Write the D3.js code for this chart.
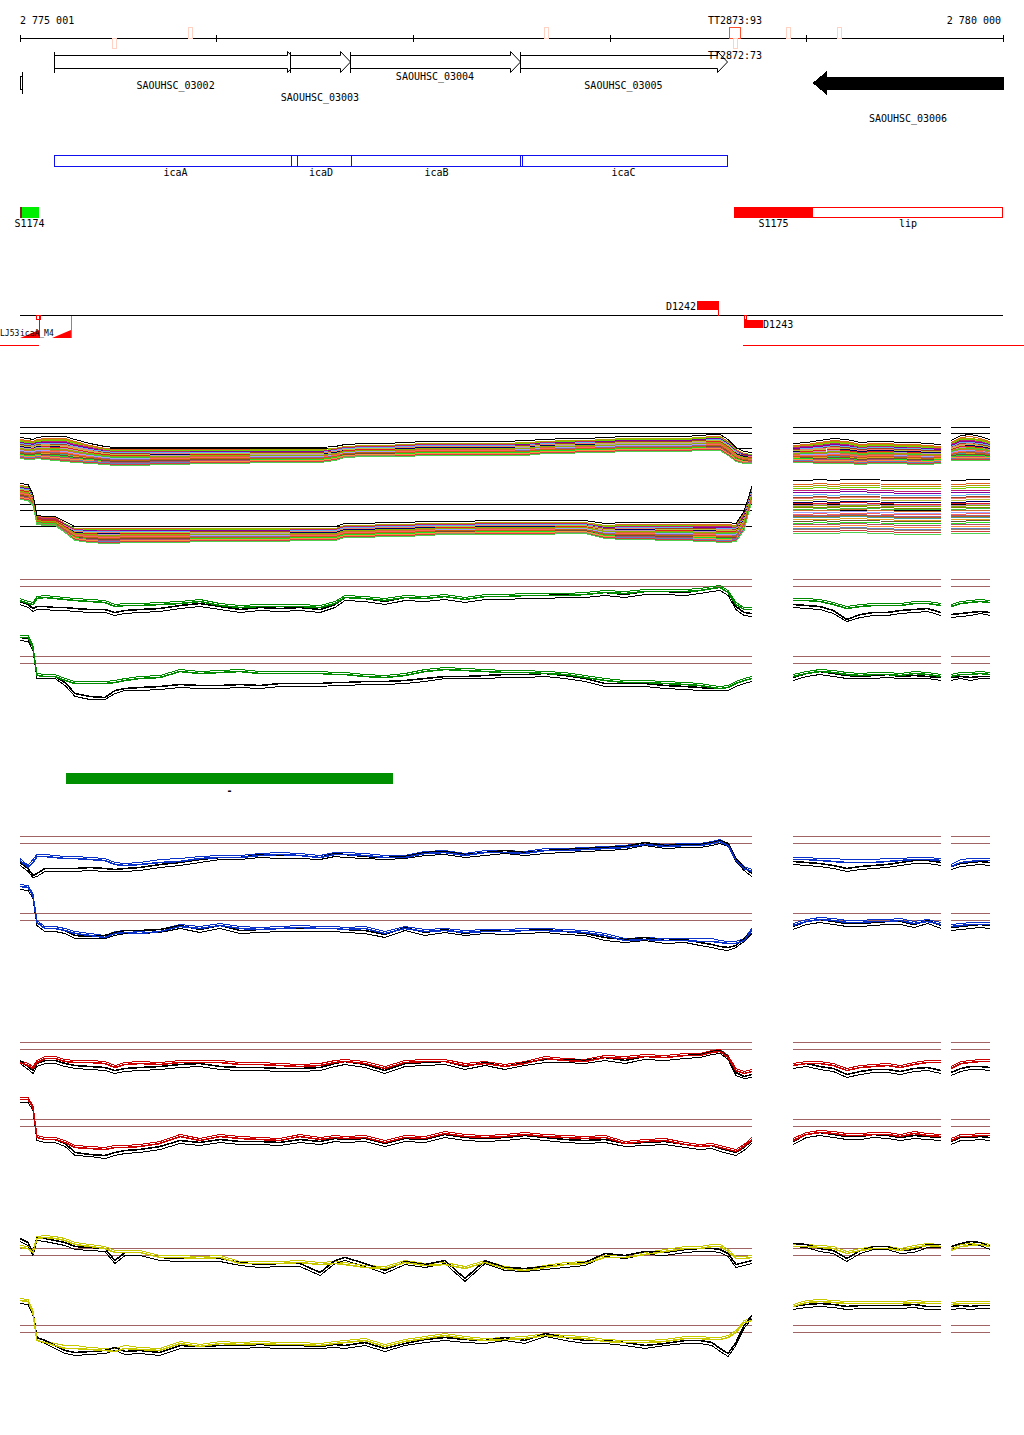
<!DOCTYPE html>
<html><head><meta charset="utf-8">
<script src="https://cdn.jsdelivr.net/npm/d3@7"></script>
<style>
body{margin:0;background:#fff}
svg{display:block}
text{font-family:"DejaVu Sans Mono",monospace;font-size:10px;fill:#000}
</style>
</head><body><svg id="c" width="1024" height="1435"></svg>
<script>
// ---------------- DATA ----------------
const winStart = 2775001, winEnd = 2780000;
const axisTicks = [2775001, 2776000, 2777000, 2778000, 2779000, 2780000];

const termNames  = ["", "", "", "TT2873:93", "TT2872:73", "", ""];
const termPos    = [2775479, 2775866, 2777676, 2778637, 2778637, 2778907, 2779166];
const termStrand = ["-", "+", "+", "+", "-", "+", "+"];
const termStrong = [false, false, false, true, false, false, false];

const geneNames   = ["SAOUHSC_03002", "SAOUHSC_03003", "SAOUHSC_03004", "SAOUHSC_03005", "SAOUHSC_03006"];
const geneStarts  = [2775174, 2776374, 2776679, 2777544, 2779034];
const geneEnds    = [2776410, 2776679, 2777544, 2778596, 2780000];
const geneStrands = ["+", "+", "+", "+", "-"];
const stubGene    = [2775001, 2775011];

const icaNames  = ["icaA", "icaD", "icaB", "icaC"];
const icaStarts = [2775174, 2776379, 2776684, 2777544];
const icaEnds   = [2776410, 2776684, 2777554, 2778596];

const sNames  = ["S1174", "S1175", "lip"];
const sStarts = [2775011, 2778632, 2778632];
const sEnds   = [2775098, 2779034, 2780000];

const dNames  = ["D1242", "D1243"];
const dStarts = [2778444, 2778683];
const dEnds   = [2778551, 2778780];
const leftNames  = ["LJ53", "icaA_M4"];
const leftStarts = [2775001, 2775164];
const leftEnds   = [2775098, 2775260];
const longFeatStarts = [2774899, 2778678];
const longFeatEnds   = [2775098, 2780107];

const barName = "-";
const barStart = 2775235, barEnd = 2776898;

// profile sample positions (bp from window start)
const profOffsets = [0,41,66,86,127,178,229,280,356,432,483,534,610,712,814,915,1017,1119,1221,1322,1424,1526,1602,1653,1754,1856,1958,2060,2161,2263,2365,2466,2568,2670,2772,2873,2975,3077,3178,3280,3382,3458,3519,3560,3601,3641,3682,3722];

// multi-sample panels (envelopes)
const multiATop = [3.2,3.1,3.0,3.2,3.3,3.3,3.3,3.0,2.6,2.3, 2.2,2.2,2.2,2.2,2.2,2.2,2.2,2.2,2.2,2.2, 2.2,2.2,2.3,2.5,2.6,2.6,2.7,2.8,2.8,2.8, 2.8,2.8,2.9,3.0,3.1,3.1,3.2,3.3,3.3,3.3, 3.3,3.4,3.5,3.5,3.0,2.2,1.8,1.7];
const multiABot = [1.2,1.1,1.1,1.2,1.1,1.0,0.9,0.8,0.7,0.6, 0.5,0.5,0.5,0.6,0.6,0.7,0.7,0.7,0.8,0.8, 0.8,0.8,1.0,1.3,1.4,1.4,1.4,1.5,1.5,1.5, 1.5,1.5,1.5,1.7,1.7,1.8,1.8,1.9,1.9,1.9, 1.9,2.0,2.0,2.0,1.5,0.9,0.7,0.7];
const multiBTop = [6.6,6.5,5.5,3.4,3.3,3.3,2.8,2.3,2.3,2.3, 2.3,2.3,2.3,2.3,2.3,2.3,2.3,2.3,2.3,2.3, 2.3,2.3,2.3,2.6,2.6,2.7,2.7,2.8,2.8,2.8, 2.9,2.9,2.9,2.9,2.9,2.9,2.6,2.7,2.7,2.7, 2.7,2.7,2.7,2.7,2.7,2.6,3.8,6.3];
const multiBBot = [5.1,5.0,4.5,2.6,2.5,2.5,1.8,1.0,0.8,0.7, 0.7,0.8,0.8,0.8,0.8,0.9,0.9,0.9,0.9,0.9, 1.0,1.0,1.0,1.3,1.3,1.4,1.4,1.5,1.6,1.6, 1.6,1.6,1.6,1.6,1.7,1.7,1.2,1.1,1.1,1.0, 1.0,0.9,0.9,0.8,0.8,0.9,2.0,5.0];
const multiASide1Top = [2.6,2.7,2.9,3.1,3.0,2.7,2.8,2.8,2.7,2.7,2.6,2.5];
const multiASide1Bot = [0.8,0.8,0.7,0.7,0.7,0.6,0.7,0.7,0.7,0.6,0.6,0.7];
const multiASide2Top = [2.9,3.4,3.5,3.3,3.0];
const multiASide2Bot = [1.0,1.0,1.0,1.0,1.0];
const multiBSide1Top = [6.9,6.9,7.0,6.9,7.0,7.0,7.0,6.9,6.9,6.9,6.9,6.9];
const multiBSide1Bot = [1.7,1.7,1.7,1.7,1.8,1.8,1.7,1.7,1.6,1.6,1.6,1.6];
const multiBSide2Top = [6.9,6.9,7.0,7.0,7.0];
const multiBSide2Bot = [1.7,1.7,1.7,1.7,1.7];
const multiARefs = [4.3, 3.7, 2.2];
const multiBRefs = [4.6, 4.0, 2.4];
const multiFrac = [0.05,0.1,0.14,0.18,0.22,0.26,0.3,0.33,0.36,0.4,0.43,0.46,0.5,0.53,0.56,0.6,0.63,0.66,0.7,0.73,0.76,0.8,0.83,0.86,0.9,0.93,0.96,1.0,0.68,0.48];
const multiColors = ["#e06020","#b0a000","#70d000","#c02070","#8000a0","#60b0f0","#a04020","#f08070","#c0c040","#000060","#e02020","#c090c0","#808000","#40c040","#d07030","#a0a0ff","#ff6060","#906090","#40a0a0","#e0a020","#705030","#20e020","#b05070","#ff9040","#6080c0","#a08060","#d04040","#50d050","#c06010","#90b000"];

// paired profile tracks: colour + black, main window and two side windows
const thresholds = [4.0, 3.3];
const greenTopC = [1.9,1.6,1.5,2.1,2.2,2.1,2.0,1.9,1.8,1.7, 1.3,1.4,1.4,1.5,1.6,1.8,1.4,1.2,1.3,1.3, 1.3,1.2,1.6,2.2,2.1,1.9,2.2,2.1,2.3,2.0, 2.3,2.3,2.4,2.4,2.4,2.5,2.7,2.6,2.8,2.8, 2.8,2.9,3.1,3.2,2.7,1.5,1.0,1.0];
const greenTopK = [1.8,1.5,1.1,1.3,1.3,1.2,1.2,1.1,1.0,1.0, 0.7,0.9,1.0,1.1,1.4,1.6,1.3,1.0,1.2,1.1, 1.2,1.0,1.5,2.2,2.1,1.8,2.2,2.1,2.3,2.0, 2.3,2.3,2.4,2.4,2.5,2.5,2.7,2.5,2.8,2.8, 2.7,2.9,3.1,3.2,2.7,1.3,0.7,0.6];
const greenBotC = [5.9,5.9,4.9,2.1,2.0,2.0,1.6,1.3,1.3,1.3, 1.4,1.6,1.8,1.9,2.5,2.3,2.4,2.5,2.3,2.3, 2.3,2.3,2.2,2.2,2.0,1.9,2.1,2.5,2.7,2.6, 2.5,2.4,2.4,2.3,2.2,1.9,1.6,1.4,1.4,1.3, 1.2,1.1,0.9,0.8,0.9,1.3,1.6,1.8];
const greenBotK = [5.9,5.8,4.9,2.1,2.0,2.0,1.4,0.3,0.0,-0.1, 0.6,0.8,0.9,1.0,1.2,1.1,1.1,1.2,1.1,1.3, 1.3,1.3,1.4,1.4,1.5,1.5,1.6,1.8,2.0,2.0, 2.1,2.2,2.2,2.3,2.1,1.8,1.3,1.3,1.3,1.1, 1.0,0.9,0.8,0.8,0.9,1.3,1.6,1.8];
const blueTopC = [1.6,0.9,1.4,2.0,2.0,1.9,1.8,1.8,1.7,1.6, 1.2,1.1,1.2,1.4,1.5,1.8,1.9,1.9,2.1,2.2, 2.1,1.9,2.2,2.2,2.1,1.9,1.9,2.3,2.4,2.1, 2.4,2.4,2.3,2.6,2.6,2.7,2.8,2.9,3.2,3.0, 3.1,3.1,3.3,3.5,3.1,1.6,0.8,0.5];
const blueTopK = [1.4,0.8,0.1,0.3,0.8,0.8,0.8,0.8,0.9,0.8, 0.7,0.8,0.9,1.2,1.4,1.7,1.9,1.9,2.2,2.1, 2.1,1.9,2.3,2.2,2.0,1.9,2.0,2.4,2.5,2.2, 2.4,2.6,2.4,2.6,2.7,2.8,2.9,3.0,3.4,3.1, 3.2,3.2,3.4,3.6,3.3,1.8,0.9,0.3];
const blueBotC = [6.7,6.6,5.8,3.1,2.5,2.5,2.3,2.0,1.8,1.6, 2.0,2.1,2.0,2.2,2.7,2.5,2.8,2.5,2.4,2.5, 2.6,2.5,2.5,2.4,2.5,2.0,2.5,2.2,2.3,2.1, 2.2,2.2,2.3,2.3,2.2,2.1,1.8,1.3,1.4,1.3, 1.3,1.2,1.2,1.1,1.0,1.0,1.3,2.3];
const blueBotK = [6.7,6.6,5.8,3.1,2.5,2.5,2.3,1.8,1.7,1.8, 2.1,2.3,2.3,2.4,2.8,2.4,2.8,2.3,2.4,2.5, 2.5,2.5,2.5,2.4,2.3,1.9,2.6,2.1,2.4,2.0, 2.3,2.2,2.3,2.4,2.2,2.0,1.6,1.4,1.6,1.3, 1.4,1.1,0.9,0.7,0.6,0.8,1.5,2.3];
const redTopC = [2.0,1.7,1.4,2.0,2.4,2.4,2.1,2.0,2.0,1.9, 1.5,1.8,1.9,1.8,2.0,2.0,2.0,1.8,1.8,1.7, 1.6,1.7,2.0,2.1,1.9,1.4,2.0,2.1,2.1,1.7, 1.9,1.6,1.9,2.4,2.2,2.1,2.5,2.4,2.6,2.5, 2.7,2.7,3.0,3.1,2.5,1.2,0.9,1.1];
const redTopK = [2.2,1.6,1.2,1.9,2.2,2.2,1.9,1.7,1.6,1.5, 1.2,1.4,1.5,1.6,1.8,1.9,1.6,1.5,1.5,1.4, 1.4,1.5,1.9,2.1,1.8,1.2,1.9,2.0,2.1,1.6, 2.0,1.6,2.0,2.3,2.3,2.2,2.5,2.2,2.6,2.5, 2.7,2.8,3.1,3.2,2.6,1.0,0.6,0.8];
const redBotC = [6.0,6.0,5.2,2.2,2.0,2.0,1.7,1.2,1.1,1.0, 1.2,1.2,1.3,1.6,2.3,1.9,2.3,2.1,2.0,1.9, 2.3,2.0,2.2,2.1,2.2,1.7,2.2,2.1,2.6,2.3, 2.2,2.3,2.5,2.3,2.2,2.1,2.2,1.6,1.8,1.9, 1.5,1.3,1.4,1.2,1.0,0.8,1.3,2.0];
const redBotK = [6.0,6.0,5.2,2.2,2.0,2.0,1.6,0.7,0.5,0.4, 0.7,0.9,1.0,1.3,1.9,1.7,2.0,1.8,1.8,1.7, 2.0,1.8,2.1,2.0,2.1,1.6,2.1,2.0,2.5,2.2, 2.1,2.2,2.4,2.2,2.0,1.9,2.0,1.6,1.7,1.8, 1.5,1.3,1.4,1.1,0.9,0.7,1.2,1.9];
const yellowTopC = [4.1,4.0,3.6,5.0,5.1,5.0,4.8,4.4,4.2,4.0, 3.6,3.6,3.6,3.1,3.1,3.0,3.1,2.5,2.5,2.5, 2.6,2.4,2.5,2.4,2.1,2.0,2.6,2.3,2.4,2.0, 2.6,2.0,1.8,2.1,2.4,2.5,3.1,3.1,3.4,3.7, 4.0,4.0,4.2,4.2,3.7,3.0,3.0,3.1];
const yellowTopK = [5.0,4.6,3.6,5.1,5.0,4.8,4.6,4.2,4.1,4.0, 2.8,3.6,3.6,3.1,3.0,3.0,3.0,2.6,2.4,2.5, 2.5,1.6,2.8,3.1,2.5,1.8,2.7,2.4,2.8,1.0, 2.8,2.1,2.0,2.2,2.4,2.6,3.5,3.3,3.7,3.6, 3.9,4.0,4.0,3.9,3.5,2.4,2.6,2.8];
const yellowBotC = [6.5,6.4,5.3,2.5,2.3,2.0,1.7,1.7,1.6,1.5, 1.4,1.7,1.6,1.5,2.2,1.9,2.2,2.1,2.2,2.1, 2.1,2.0,2.2,2.3,2.5,1.9,2.4,2.7,3.0,2.7, 2.5,2.6,2.7,3.0,2.8,2.7,2.4,2.3,2.3,2.4, 2.7,2.7,2.6,2.6,2.8,3.3,4.3,4.5];
const yellowBotK = [6.5,6.4,5.3,2.8,2.5,2.0,1.5,1.3,1.4,1.5, 1.8,1.4,1.5,1.3,2.0,1.9,2.0,2.0,2.1,2.0, 2.0,1.9,2.1,2.0,2.3,1.7,2.2,2.6,2.8,2.6, 2.5,2.8,2.5,3.2,2.8,2.5,2.5,2.3,2.0,2.2, 2.5,2.5,2.3,1.7,1.2,2.3,4.0,5.0];

const greenTopS1C = [1.9,1.9,1.8,1.5,1.1,1.3,1.4,1.4,1.4,1.6,1.6,1.4], greenTopS1K = [1.5,1.4,1.3,0.9,0.0,0.5,0.7,0.7,0.9,1.0,1.1,0.7];
const greenTopS2C = [1.3,1.6,1.7,1.8,1.7], greenTopS2K = [0.5,0.6,0.7,0.8,0.7];
const greenBotS1C = [2.0,2.3,2.5,2.4,2.2,2.1,2.2,2.2,2.1,2.3,2.2,2.0], greenBotS1K = [1.9,2.3,2.5,2.3,2.1,2.0,2.1,2.2,2.0,2.1,2.0,1.9];
const greenBotS2C = [2.0,2.2,2.2,2.3,2.2], greenBotS2K = [1.9,2.0,1.9,2.0,2.0];
const blueTopS1C = [1.7,1.7,1.6,1.5,1.4,1.4,1.4,1.5,1.6,1.7,1.7,1.6], blueTopS1K = [1.5,1.4,1.3,1.1,0.8,1.0,1.1,1.2,1.4,1.6,1.6,1.4];
const blueTopS2C = [1.0,1.4,1.5,1.6,1.6], blueTopS2K = [1.0,1.3,1.4,1.5,1.4];
const blueBotS1C = [2.8,3.2,3.4,3.3,3.1,3.1,3.2,3.2,3.3,3.0,3.2,2.9], blueBotS1K = [2.7,3.2,3.4,3.2,3.0,3.0,3.1,3.2,3.2,2.9,3.3,2.8];
const blueBotS2C = [2.7,2.8,2.9,2.9,2.9], blueBotS2K = [2.6,2.7,2.8,2.9,2.8];
const redTopS1C = [1.7,1.9,1.9,1.7,1.2,1.5,1.6,1.7,1.5,1.8,2.0,2.0], redTopS1K = [1.7,1.9,1.6,1.4,0.8,1.1,1.3,1.3,1.1,1.4,1.5,1.2];
const redTopS2C = [1.4,1.9,2.0,2.1,2.1], redTopS2K = [1.0,1.4,1.6,1.6,1.5];
const redBotS1C = [1.9,2.5,2.7,2.6,2.4,2.4,2.5,2.5,2.3,2.6,2.4,2.3], redBotS1K = [1.8,2.5,2.7,2.5,2.3,2.3,2.5,2.4,2.2,2.4,2.3,2.2];
const redBotS2C = [1.9,2.3,2.3,2.4,2.4], redBotS2K = [1.8,2.2,2.2,2.3,2.2];
const yellowTopS1C = [4.2,4.2,4.1,4.0,3.5,3.8,4.0,4.0,3.8,4.1,4.3,4.2], yellowTopS1K = [4.5,4.4,4.0,3.8,3.0,3.8,4.2,4.2,3.8,3.9,4.4,4.4];
const yellowTopS2C = [3.8,4.2,4.3,4.4,4.2], yellowTopS2K = [4.2,4.5,4.7,4.6,4.2];
const yellowBotS1C = [5.9,6.3,6.4,6.3,6.2,6.2,6.2,6.2,6.2,6.3,6.2,6.2], yellowBotS1K = [5.9,6.1,6.2,6.1,5.9,6.0,6.0,6.0,6.0,6.1,5.9,5.9];
const yellowBotS2C = [6.1,6.2,6.2,6.2,6.2], yellowBotS2K = [5.9,6.0,5.9,6.0,6.0];

// ---------------- DRAWING ----------------
const svg = d3.select("#c");
const x = d3.scaleLinear().domain([winStart, winEnd]).range([20, 1003]);
const fmt = d3.formatLocale({decimal: ".", thousands: " ", grouping: [3], currency: ["", ""]}).format(",");
const crisp = "crispEdges";

// ruler
const g0 = svg.append("g").attr("shape-rendering", crisp);
g0.append("line").attr("x1", x(winStart)).attr("x2", x(winEnd)).attr("y1", 38.5).attr("y2", 38.5).attr("stroke", "#000");
g0.selectAll("line.tk").data(axisTicks).join("line").attr("class", "tk")
  .attr("x1", d => Math.round(x(d)) + 0.5).attr("x2", d => Math.round(x(d)) + 0.5)
  .attr("y1", 35).attr("y2", 42).attr("stroke", "#000");
g0.append("text").attr("x", x(winStart)).attr("y", 24).text(fmt(winStart));
g0.append("text").attr("x", x(winEnd) - 2).attr("y", 24).attr("text-anchor", "end").text(fmt(winEnd));

// genes
const gG = svg.append("g").attr("shape-rendering", crisp);
const geneLabelY = [89, 101, 80, 89, 122];
geneNames.forEach((n, i) => {
  const x0 = Math.round(x(geneStarts[i])) + 0.5, x1 = Math.round(x(geneEnds[i])) + 0.5;
  let d;
  if (geneStrands[i] === "+") {
    const h = 10, yT = 55.5, yB = 68.5, hT = 51.5, hB = 72.5, m = 62;
    d = `M${x0},${yT}L${x1 - h},${yT}L${x1 - h},${hT}L${x1},${m}L${x1 - h},${hB}L${x1 - h},${yB}L${x0},${yB}Z`;
    gG.append("path").attr("d", d).attr("fill", "#fff").attr("stroke", "#000").attr("shape-rendering", "auto");
    gG.append("line").attr("x1", x0).attr("x2", x0).attr("y1", hT).attr("y2", hB).attr("stroke", "#000");
  } else {
    const h = 13, yT = 77, yB = 89, hT = 72, hB = 94, m = 83;
    d = `M${x1},${yT}L${x0 + h},${yT}L${x0 + h},${hT}L${x0},${m}L${x0 + h},${hB}L${x0 + h},${yB}L${x1},${yB}Z`;
    gG.append("path").attr("d", d).attr("fill", "#000").attr("stroke", "#000");
  }
  gG.append("text").attr("x", (x(geneStarts[i]) + x(geneEnds[i])) / 2).attr("y", geneLabelY[i])
    .attr("text-anchor", "middle").text(n);
});
// partial gene at the left edge
gG.append("rect").attr("x", x(stubGene[0]) + 0.5).attr("y", 76.5).attr("width", x(stubGene[1]) - x(stubGene[0])).attr("height", 13)
  .attr("fill", "#fff").attr("stroke", "#000");
gG.append("line").attr("x1", x(stubGene[1]) + 0.5).attr("x2", x(stubGene[1]) + 0.5).attr("y1", 72).attr("y2", 94).attr("stroke", "#000");

// terminators (drawn over genes)
termPos.forEach((p, i) => {
  const w = termStrong[i] ? 11 : 4;
  const above = termStrand[i] === "+";
  const col = termStrong[i] ? "#ff5030" : "#ffd2c4";
  g0.append("rect").attr("x", Math.round(x(p) - w / 2) + 0.5).attr("y", above ? 27.5 : 38.5)
    .attr("width", w).attr("height", above ? 11 : 10).attr("fill", "none").attr("stroke", col);
});
termPos.forEach((p, i) => {
  const above = termStrand[i] === "+";
  if (termNames[i]) {
    svg.append("text").attr("x", x(p)).attr("y", above ? 24 : 59).attr("text-anchor", "middle").text(termNames[i]);
  }
});

// ica operon boxes
icaNames.forEach((n, i) => {
  const x0 = Math.round(x(icaStarts[i])) + 0.5, x1 = Math.round(x(icaEnds[i])) + 0.5;
  gG.append("rect").attr("x", x0).attr("y", 155.5).attr("width", x1 - x0).attr("height", 11)
    .attr("fill", "none").attr("stroke", "#1010ee");
  gG.append("text").attr("x", (x(icaStarts[i]) + x(icaEnds[i])) / 2).attr("y", 176).attr("text-anchor", "middle").text(n);
});

// S features
gG.append("rect").attr("x", x(sStarts[2]) + 0.5).attr("y", 207.5).attr("width", x(sEnds[2]) - x(sStarts[2]) - 1).attr("height", 10)
  .attr("fill", "#fff").attr("stroke", "#ff0000");
gG.append("rect").attr("x", x(sStarts[1])).attr("y", 207).attr("width", x(sEnds[1]) - x(sStarts[1])).attr("height", 11).attr("fill", "#ff0000");
gG.append("rect").attr("x", x(sStarts[0])).attr("y", 207).attr("width", x(sEnds[0]) - x(sStarts[0])).attr("height", 11).attr("fill", "#00ee00");
gG.append("rect").attr("x", x(winStart)).attr("y", 207).attr("width", 2).attr("height", 11).attr("fill", "#802020");
sNames.forEach((n, i) => {
  const cx = i === 2 ? (x(sEnds[1]) + x(sEnds[2])) / 2 : (x(sStarts[i]) + x(sEnds[i])) / 2;
  gG.append("text").attr("x", cx - (i === 0 ? 1 : 0)).attr("y", 227).attr("text-anchor", "middle").text(n);
});

// D row
const gD = svg.append("g").attr("shape-rendering", crisp);
gD.append("line").attr("x1", x(winStart)).attr("x2", x(winEnd)).attr("y1", 315.5).attr("y2", 315.5).attr("stroke", "#000").attr("stroke-width", 1.3);
gD.append("rect").attr("x", x(dStarts[0])).attr("y", 301).attr("width", x(dEnds[0]) - x(dStarts[0])).attr("height", 9).attr("fill", "#ff0000");
gD.append("line").attr("x1", x(dEnds[0])).attr("x2", x(dEnds[0])).attr("y1", 301).attr("y2", 316).attr("stroke", "#ff0000");
gD.append("text").attr("x", x(dStarts[0]) - 1).attr("y", 310).attr("text-anchor", "end").text(dNames[0]);
gD.append("rect").attr("x", x(dStarts[1])).attr("y", 320).attr("width", x(dEnds[1]) - x(dStarts[1])).attr("height", 8).attr("fill", "#ff0000");
gD.append("rect").attr("x", x(dStarts[1]) + 0.5).attr("y", 315.5).attr("width", 2).attr("height", 4).attr("fill", "none").attr("stroke", "#ff0000");
gD.append("text").attr("x", x(dEnds[1])).attr("y", 328).text(dNames[1]);
longFeatStarts.forEach((s, i) => {
  gD.append("line").attr("x1", x(s)).attr("x2", x(longFeatEnds[i])).attr("y1", 345.5).attr("y2", 345.5).attr("stroke", "#ff0000");
});
// left markers
leftStarts.forEach((s, i) => {
  const x0 = x(s), x1 = x(leftEnds[i]);
  gD.append("path").attr("d", `M${x0},338L${x1},338L${x1},330Z`).attr("fill", "#ff0000").attr("shape-rendering", "auto");
});
gD.append("rect").attr("x", x(2775082) + 0.5).attr("y", 315.5).attr("width", 4).attr("height", 4).attr("fill", "none").attr("stroke", "#ff0000");
gD.append("line").attr("x1", x(leftEnds[0]) + 0.5).attr("x2", x(leftEnds[0]) + 0.5).attr("y1", 316).attr("y2", 338).attr("stroke", "#ff0000");
gD.append("line").attr("x1", x(leftEnds[1]) + 0.5).attr("x2", x(leftEnds[1]) + 0.5).attr("y1", 316).attr("y2", 338).attr("stroke", "#888");
gD.append("text").attr("x", 0).attr("y", 336).style("font-size", "8px").text(leftNames[0]);
gD.append("text").attr("x", 20).attr("y", 336).style("font-size", "8px").text(leftNames[1]);

// green bar
svg.append("rect").attr("x", x(barStart)).attr("y", 773).attr("width", x(barEnd) - x(barStart)).attr("height", 11).attr("fill", "#008f00");
svg.append("text").attr("x", (x(barStart) + x(barEnd)) / 2).attr("y", 794).attr("text-anchor", "middle").style("font-weight", "bold").text(barName);

// profile helpers
const side1 = d3.scaleLinear().domain([0, 11]).range([793, 941]);
const side2 = d3.scaleLinear().domain([0, 4]).range([951, 990]);
const mainXs = profOffsets.map(o => x(winStart + o));
const side1Xs = d3.range(12).map(i => side1(i));
const side2Xs = d3.range(5).map(i => side2(i));
const windows = [[20, 752], [793, 941], [951, 990]];

function drawSeries(g, xs, vals, y, color, width, shift) {
  const line = d3.line().x((d, i) => xs[i]).y(d => Math.round(y(d + shift)) + 0.5);
  g.append("path").attr("d", line(vals)).attr("fill", "none").attr("stroke", color).attr("stroke-width", width);
}

// multi-sample panels
function drawMulti(base, refs, env) {
  const y = d3.scaleLinear().domain([0, 10]).range([base, base - 100]);
  const g = svg.append("g").attr("shape-rendering", crisp);
  windows.forEach((w, wi) => {
    refs.forEach((r, ri) => {
      if (wi > 0 && ri === 2) return;
      g.append("line").attr("x1", w[0]).attr("x2", w[1]).attr("y1", Math.round(y(r)) + 0.5).attr("y2", Math.round(y(r)) + 0.5).attr("stroke", "#000");
    });
  });
  [[mainXs, env[0], env[1]], [side1Xs, env[2], env[3]], [side2Xs, env[4], env[5]]].forEach(([xs, top, bot]) => {
    multiFrac.forEach((f, k) => {
      const vals = top.map((t, i) => d3.interpolateNumber(t, bot[i])(f));
      drawSeries(g, xs, vals, y, multiColors[k], 1, 0);
    });
    drawSeries(g, xs, top, y, "#000", 1, 0.1);
  });
}
drawMulti(470, multiARefs, [multiATop, multiABot, multiASide1Top, multiASide1Bot, multiASide2Top, multiASide2Bot]);
drawMulti(550, multiBRefs, [multiBTop, multiBBot, multiBSide1Top, multiBSide1Bot, multiBSide2Top, multiBSide2Bot]);

// paired tracks
const pairTracks = [
  {color: "#008a00", base: 619,  s: [greenTopC, greenTopK, greenTopS1C, greenTopS1K, greenTopS2C, greenTopS2K]},
  {color: "#008a00", base: 696,  s: [greenBotC, greenBotK, greenBotS1C, greenBotS1K, greenBotS2C, greenBotS2K]},
  {color: "#0a32c8", base: 876,  s: [blueTopC, blueTopK, blueTopS1C, blueTopS1K, blueTopS2C, blueTopS2K]},
  {color: "#0a32c8", base: 953,  s: [blueBotC, blueBotK, blueBotS1C, blueBotS1K, blueBotS2C, blueBotS2K]},
  {color: "#cc0000", base: 1082, s: [redTopC, redTopK, redTopS1C, redTopS1K, redTopS2C, redTopS2K]},
  {color: "#cc0000", base: 1159, s: [redBotC, redBotK, redBotS1C, redBotS1K, redBotS2C, redBotS2K]},
  {color: "#c8c800", base: 1288, s: [yellowTopC, yellowTopK, yellowTopS1C, yellowTopS1K, yellowTopS2C, yellowTopS2K]},
  {color: "#c8c800", base: 1365, s: [yellowBotC, yellowBotK, yellowBotS1C, yellowBotS1K, yellowBotS2C, yellowBotS2K]}
];
pairTracks.forEach(t => {
  const y = d3.scaleLinear().domain([0, 10]).range([t.base, t.base - 100]);
  const g = svg.append("g").attr("shape-rendering", crisp);
  windows.forEach(w => {
    thresholds.forEach(th => {
      g.append("line").attr("x1", w[0]).attr("x2", w[1]).attr("y1", Math.round(y(th)) + 0.5).attr("y2", Math.round(y(th)) + 0.5)
        .attr("stroke", "#a06464");
    });
  });
  [[mainXs, t.s[0], t.s[1]], [side1Xs, t.s[2], t.s[3]], [side2Xs, t.s[4], t.s[5]]].forEach(([xs, c, k]) => {
    drawSeries(g, xs, k, y, "#000", 1, -0.25);
    drawSeries(g, xs, c, y, t.color, 1, 0.25);
    drawSeries(g, xs, k, y, "#000", 1.6, 0);
    drawSeries(g, xs, c, y, t.color, 1.6, 0);
  });
});
</script>
</body></html>
